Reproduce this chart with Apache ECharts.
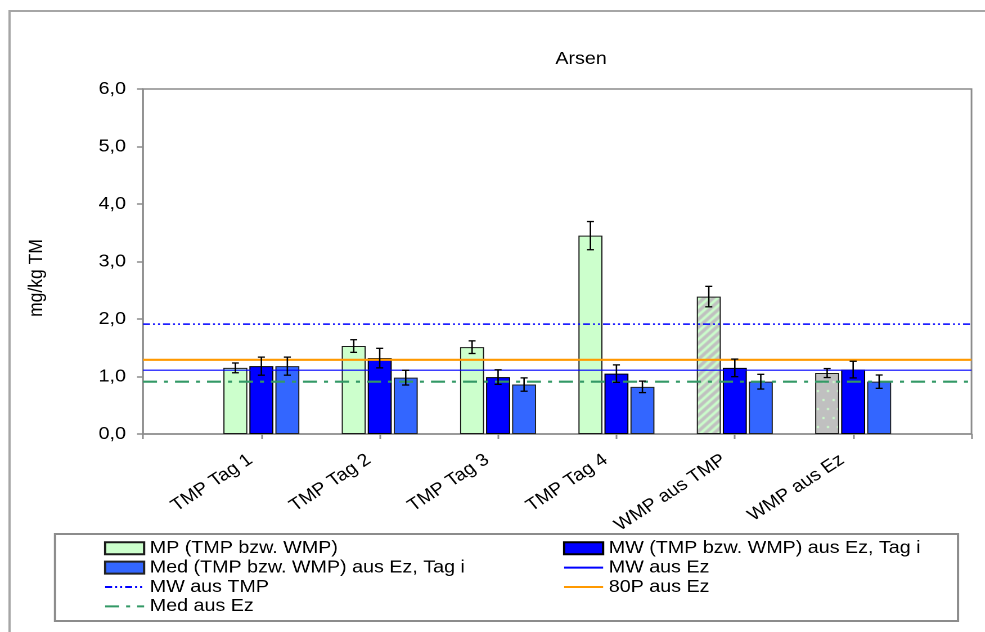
<!DOCTYPE html>
<html>
<head>
<meta charset="utf-8">
<script src="https://cdn.jsdelivr.net/npm/echarts@6/dist/echarts.min.js"></script>
<style>
  html, body { margin: 0; padding: 0; background: #ffffff; overflow: hidden; }
  /* the chart is laid out narrower and widened with the page, like the original wide-format figure */
  #chart { height: 632px; transform-origin: 0 0; }
</style>
</head>
<body>
<div id="chart"></div>
<script>
// Arsen: sample means per day, with spread, plus reference levels (mg/kg TM)
const categories = ['TMP Tag 1', 'TMP Tag 2', 'TMP Tag 3', 'TMP Tag 4', 'WMP aus TMP', 'WMP aus Ez'];

const mpValues  = [1.15, 1.53, 1.51, 3.45, 2.39, 1.06];
const mpErrors  = [0.085, 0.11, 0.11, 0.245, 0.178, 0.078];

const mwValues  = [1.18, 1.32, 0.99, 1.05, 1.15, 1.12];
const mwErrors  = [0.157, 0.17, 0.127, 0.152, 0.153, 0.145];

const medValues = [1.18, 0.98, 0.86, 0.82, 0.91, 0.91];
const medErrors = [0.157, 0.128, 0.116, 0.10, 0.128, 0.116];

const mwAusTmp = 1.91;
const p80AusEz = 1.29;
const mwAusEz  = 1.11;
const medAusEz = 0.91;

const yTicks = [0, 1, 2, 3, 4, 5, 6];

const names = {
  mp:  'MP (TMP bzw. WMP)',
  mw:  'MW (TMP bzw. WMP) aus Ez, Tag i',
  med: 'Med (TMP bzw. WMP) aus Ez, Tag i',
  mwEz: 'MW aus Ez',
  mwTmp: 'MW aus TMP',
  p80: '80P aus Ez',
  medEz: 'Med aus Ez'
};

const FONT = "'Liberation Sans', Arial, sans-serif";
const FS = 17.5;

// horizontal widening of the whole figure
const SX = 1.125;
const PAGE_W = 985;
const sx = x => x / SX;

const dom = document.getElementById('chart');
dom.style.width = sx(PAGE_W) + 'px';
dom.style.transform = 'scaleX(' + SX + ')';

// empty slots at both ends so the groups sit on the tick marks
const axisCats = [''].concat(categories, ['']);
const pad = arr => ['-'].concat(arr, ['-']);

// fill patterns for the two weighted-mean bars
function hatchCanvas() {
  const c = document.createElement('canvas');
  c.width = 8; c.height = 8;
  const g = c.getContext('2d');
  g.fillStyle = '#C0C0C0'; g.fillRect(0, 0, 8, 8);
  g.strokeStyle = '#CCFFCC'; g.lineWidth = 2.6;
  g.beginPath();
  g.moveTo(-2, 10); g.lineTo(10, -2);
  g.moveTo(-2, 2); g.lineTo(2, -2);
  g.moveTo(6, 10); g.lineTo(10, 6);
  g.stroke();
  return c;
}
function dotCanvas() {
  const c = document.createElement('canvas');
  c.width = 9; c.height = 18;
  const g = c.getContext('2d');
  g.fillStyle = '#C0C0C0'; g.fillRect(0, 0, 9, 18);
  g.fillStyle = '#CCFFCC';
  g.fillRect(2, 3, 2, 2);
  g.fillRect(6, 12, 2, 2);
  return c;
}
const hatchFill = { image: hatchCanvas(), repeat: 'repeat' };
const dotFill = { image: dotCanvas(), repeat: 'repeat' };

const mpData = mpValues.map((v, k) => {
  if (k === 4) return { value: v, itemStyle: { color: hatchFill } };
  if (k === 5) return { value: v, itemStyle: { color: dotFill } };
  return v;
});

const BAR_W = sx(24);
const BAR_GAP = sx(2);
const STEP = BAR_W + BAR_GAP;

function errorBars(values, errors, offset) {
  return {
    type: 'custom',
    z: 20,
    silent: true,
    renderItem(params, api) {
      const i = api.value(0);
      const lo = api.coord([i, api.value(1)]);
      const hi = api.coord([i, api.value(2)]);
      const x = lo[0] + offset;
      const cap = sx(3.5);
      const st = { stroke: '#000000', lineWidth: 1.3 };
      return {
        type: 'group',
        children: [
          { type: 'line', shape: { x1: x, y1: lo[1], x2: x, y2: hi[1] }, style: st },
          { type: 'line', shape: { x1: x - cap, y1: lo[1], x2: x + cap, y2: lo[1] }, style: st },
          { type: 'line', shape: { x1: x - cap, y1: hi[1], x2: x + cap, y2: hi[1] }, style: st }
        ]
      };
    },
    data: values.map((v, k) => [k + 1, v - errors[k], v + errors[k]])
  };
}

function refLine(name, value, color, width, type) {
  return {
    name: name,
    type: 'line',
    symbol: 'none',
    z: 5,
    silent: true,
    lineStyle: { color: color, width: width, type: type },
    itemStyle: { color: color },
    data: axisCats.map(() => value)
  };
}

const chart = echarts.init(dom, null, { renderer: 'canvas', devicePixelRatio: 2 });

const legendText = { fontFamily: FONT, fontSize: FS, color: '#000', lineHeight: 19.4 };
// line keys: keep the stroke, hide the marker dot
const lineKey = name => ({ name: name, itemStyle: { opacity: 0 } });

chart.setOption({
  backgroundColor: '#ffffff',
  animation: false,
  textStyle: { fontFamily: FONT },
  grid: {
    left: sx(143), top: 89, right: sx(14), bottom: 198,
    show: true, borderColor: '#8c8c8c', borderWidth: 1.5, backgroundColor: 'transparent'
  },
  xAxis: {
    type: 'category',
    data: axisCats,
    boundaryGap: false,
    axisLine: { lineStyle: { color: '#8c8c8c', width: 1.5 } },
    axisTick: { show: true, length: 5, interval: 0, lineStyle: { color: '#8c8c8c', width: 1.5 } },
    axisLabel: {
      interval: 0, rotate: 36, margin: 17, padding: [0, 12, 0, 0],
      fontFamily: FONT, fontSize: FS, color: '#000'
    },
    splitLine: { show: false }
  },
  yAxis: {
    type: 'value',
    min: yTicks[0], max: yTicks[yTicks.length - 1], interval: 1,
    axisLine: { show: true, lineStyle: { color: '#8c8c8c', width: 1.5 } },
    axisTick: { show: true, length: sx(6), lineStyle: { color: '#8c8c8c', width: 1.5 } },
    axisLabel: {
      margin: sx(17), fontFamily: FONT, fontSize: FS, color: '#000',
      formatter: v => v.toFixed(1).replace('.', ',')
    },
    splitLine: { show: false }
  },
  legend: [
    {
      left: sx(104), top: 538.5, orient: 'vertical', padding: 0, itemGap: 0,
      itemWidth: sx(39), itemHeight: 12, selectedMode: false,
      textStyle: legendText,
      data: [
        { name: names.mp, icon: 'rect' },
        { name: names.med, icon: 'rect' },
        lineKey(names.mwTmp),
        lineKey(names.medEz)
      ]
    },
    {
      left: sx(563), top: 538.5, orient: 'vertical', padding: 0, itemGap: 0,
      itemWidth: sx(39), itemHeight: 12, selectedMode: false,
      textStyle: legendText,
      data: [
        { name: names.mw, icon: 'rect' },
        lineKey(names.mwEz),
        lineKey(names.p80)
      ]
    }
  ],
  series: [
    {
      name: names.mp, type: 'bar', barWidth: BAR_W, barGap: (BAR_GAP / BAR_W * 100) + '%',
      z: 2, silent: true,
      itemStyle: { color: '#CCFFCC', borderColor: '#1a1a1a', borderWidth: 1 },
      data: pad(mpData)
    },
    {
      name: names.mw, type: 'bar', barWidth: BAR_W, z: 2, silent: true,
      itemStyle: { color: '#0000FF', borderColor: '#000000', borderWidth: 1 },
      data: pad(mwValues)
    },
    {
      name: names.med, type: 'bar', barWidth: BAR_W, z: 2, silent: true,
      itemStyle: { color: '#3366FF', borderColor: '#222222', borderWidth: 1 },
      data: pad(medValues)
    },
    refLine(names.mwEz, mwAusEz, '#0000FF', 1.2, 'solid'),
    refLine(names.mwTmp, mwAusTmp, '#0000FF', 1.5, [sx(7), sx(3), sx(2), sx(3), sx(2), sx(3)]),
    refLine(names.p80, p80AusEz, '#FF9900', 2.2, 'solid'),
    refLine(names.medEz, medAusEz, '#339966', 2.2, [sx(14), sx(7), sx(4), sx(7)]),
    errorBars(mpValues, mpErrors, -STEP),
    errorBars(mwValues, mwErrors, 0),
    errorBars(medValues, medErrors, STEP)
  ],
  graphic: [
    {
      type: 'rect', silent: true, z: -1,
      shape: { x: sx(9.5), y: 11, width: sx(1000), height: 700 },
      style: { fill: 'none', stroke: '#a6a6a6', lineWidth: 2 }
    },
    {
      type: 'rect', silent: true, z: -1,
      shape: { x: sx(55), y: 534, width: sx(903), height: 87 },
      style: { fill: 'none', stroke: '#8c8c8c', lineWidth: 2 }
    },
    {
      type: 'text', silent: true,
      x: sx(581), y: 59,
      style: { text: 'Arsen', fontFamily: FONT, fontSize: FS, fill: '#000', align: 'center', verticalAlign: 'middle' }
    },
    {
      type: 'text', silent: true,
      x: sx(37), y: 278, rotation: Math.PI / 2,
      style: { text: 'mg/kg TM', fontFamily: FONT, fontSize: FS, fill: '#000', align: 'center', verticalAlign: 'middle' }
    }
  ]
});
</script>
</body>
</html>
